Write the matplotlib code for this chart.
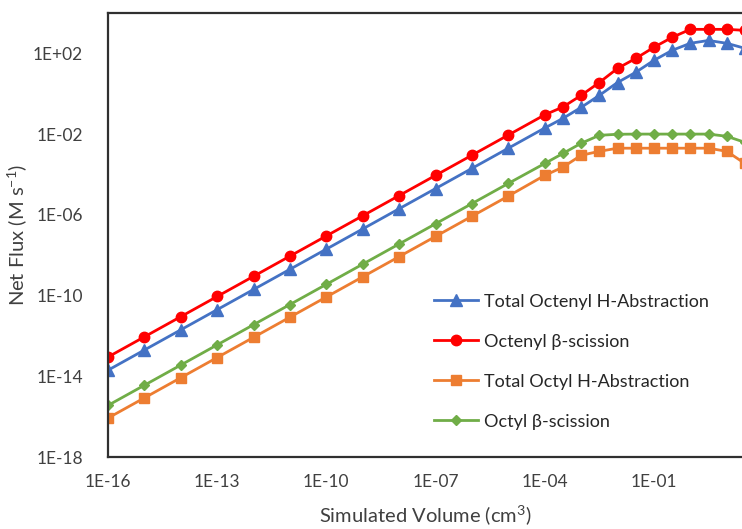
import matplotlib
matplotlib.use("Agg")
import matplotlib.pyplot as plt

plt.rcParams['font.family'] = ['Lato', 'DejaVu Sans']
plt.rcParams['mathtext.fontset'] = 'custom'
plt.rcParams['mathtext.rm'] = 'Lato'
plt.rcParams['mathtext.it'] = 'Lato:italic'

# simulated volume (cm3)
volume = [1e-16, 1e-15, 1e-14, 1e-13, 1e-12, 1e-11, 1e-10, 1e-9, 1e-8, 1e-7,
          1e-6, 1e-5, 1e-4, 3.16e-4, 1e-3, 3.16e-3, 1e-2, 3.16e-2, 1e-1,
          3.16e-1, 1.0, 3.16, 10.0, 31.6]

# net flux (M s-1)
octenyl_h_abs = [2e-14, 2e-13, 2e-12, 2e-11, 2e-10, 2e-9, 2e-8, 2e-7, 2e-6,
                 2e-5, 2e-4, 2e-3, 2e-2, 6e-2, 0.21, 0.83, 3.6, 11.5, 45,
                 141, 316, 436, 316, 178]
octenyl_beta = [9e-14, 9e-13, 9e-12, 9e-11, 9e-10, 9e-9, 9e-8, 9e-7, 9e-6,
                9e-5, 9e-4, 9e-3, 9e-2, 0.22, 0.83, 3.6, 18, 56, 200,
                620, 1550, 1550, 1550, 1380]
octyl_h_abs = [8.5e-17, 8.5e-16, 8.5e-15, 8.5e-14, 8.5e-13, 8.5e-12, 8.5e-11,
               8.5e-10, 8.5e-9, 8.5e-8, 8.5e-7, 8.5e-6, 9e-5, 2.3e-4, 8.9e-4,
               1.4e-3, 2e-3, 2e-3, 2e-3, 2e-3, 2e-3, 2e-3, 1.4e-3, 3.5e-4]
octyl_beta = [3.6e-16, 3.6e-15, 3.6e-14, 3.6e-13, 3.6e-12, 3.6e-11, 3.6e-10,
              3.6e-9, 3.6e-8, 3.6e-7, 3.6e-6, 3.6e-5, 3.5e-4, 1.1e-3, 3.5e-3,
              8.7e-3, 9.8e-3, 1e-2, 1e-2, 1e-2, 1e-2, 1e-2, 7.8e-3, 3.9e-3]

x_ticks = [1e-16, 1e-13, 1e-10, 1e-7, 1e-4, 1e-1]
x_tick_labels = ['1E-16', '1E-13', '1E-10', '1E-07', '1E-04', '1E-01']
y_ticks = [1e-18, 1e-14, 1e-10, 1e-6, 1e-2, 1e2]
y_tick_labels = ['1E-18', '1E-14', '1E-10', '1E-06', '1E-02', '1E+02']

text_color = '#404040'

fig = plt.figure(figsize=(7.42, 5.29), dpi=100)
ax = fig.add_axes([108 / 742, 1 - 457 / 529, 1 - 108 / 742, (457 - 13) / 529])

ax.plot(volume, octenyl_h_abs, color='#4472C4', lw=2.0, marker='^', ms=8,
        label='Total Octenyl H-Abstraction')
ax.plot(volume, octenyl_beta, color='#FF0000', lw=2.0, marker='o', ms=7.5,
        label='Octenyl β-scission')
ax.plot(volume, octyl_h_abs, color='#ED7D31', lw=2.0, marker='s', ms=7,
        label='Total Octyl H-Abstraction')
ax.plot(volume, octyl_beta, color='#70AD47', lw=2.0, marker='D', ms=5.5,
        label='Octyl β-scission')

ax.set_xscale('log')
ax.set_yscale('log')
ax.set_xlim(1e-16, 10 ** 1.42)
ax.set_ylim(1e-18, 1e4)

ax.set_xticks(x_ticks)
ax.set_xticklabels(x_tick_labels)
ax.set_yticks(y_ticks)
ax.set_yticklabels(y_tick_labels)
ax.minorticks_off()
ax.tick_params(length=0, labelsize=12.5, colors=text_color, pad=12)
ax.tick_params(axis='y', pad=18)

for side in ['left', 'top', 'bottom']:
    ax.spines[side].set_color('#303030')
    ax.spines[side].set_linewidth(1.6)
ax.spines['right'].set_visible(False)

ax.set_xlabel('Simulated Volume (cm$^3$)', fontsize=14.5, color=text_color, labelpad=10)
ax.set_ylabel('Net Flux (M s$^{-1}$)', fontsize=14.5, color=text_color)
ax.yaxis.set_label_coords(-0.124, 0.5)

ax.legend(loc='upper left', bbox_to_anchor=(0.5, 0.388), frameon=False,
          fontsize=13, handlelength=2.45, handletextpad=0.3, labelspacing=1.33,
          borderpad=0, labelcolor='#262626')

fig.savefig('out.png', dpi=100)
